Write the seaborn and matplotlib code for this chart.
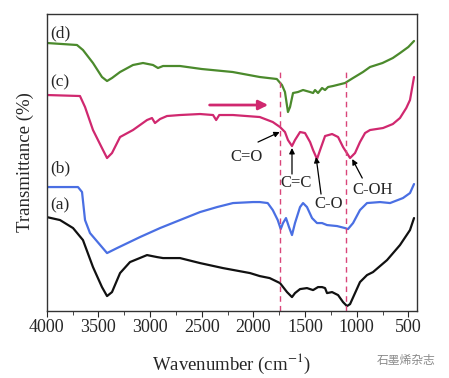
import numpy as np
import pandas as pd
import matplotlib
matplotlib.use("Agg")
import matplotlib.pyplot as plt
import seaborn as sns

# curve (a) black
wn_a = [4000, 3871, 3745, 3649, 3552, 3465, 3416, 3368, 3290, 3194, 3029, 2932, 2874, 2710,
        2516, 2294, 2032, 1938, 1842, 1742, 1674, 1626, 1597, 1548, 1481, 1422, 1374, 1335,
        1306, 1287, 1238, 1180, 1132, 1094, 1064, 1016, 968, 900, 842, 706, 581, 484, 445]
tr_a = [94, 91, 83, 71, 44, 24, 15, 19, 38, 49, 56, 54, 53, 53,
        48, 43, 38, 35, 33, 28, 19, 14, 18, 22, 23, 21, 24, 24,
        23, 18, 19, 16, 9, 5, 7, 18, 29, 36, 39, 51, 66, 81, 93]

# curve (b) blue
wn_b = [4000, 3697, 3658, 3629, 3581, 3416, 3319, 3097, 2903, 2710, 2516, 2351, 2197, 2003,
        1938, 1861, 1812, 1764, 1735, 1713, 1684, 1655, 1626, 1597, 1548, 1519, 1481, 1432,
        1384, 1335, 1287, 1190, 1113, 1084, 1035, 968, 900, 774, 677, 552, 484, 445]
tr_b = [124, 124, 119, 91, 78, 58, 63, 74, 83, 91, 99, 104, 108, 109,
        109, 108, 101, 91, 82, 88, 93, 84, 76, 88, 104, 108, 104, 93,
        88, 88, 86, 85, 83, 82, 88, 101, 108, 109, 108, 113, 118, 127]

# curve (c) magenta
wn_c = [4000, 3678, 3629, 3552, 3465, 3416, 3368, 3290, 3165, 3029, 2981, 2952, 2903, 2836,
        2710, 2516, 2390, 2360, 2330, 2197, 1938, 1812, 1742, 1694, 1665, 1626, 1597, 1548,
        1500, 1451, 1422, 1384, 1354, 1306, 1238, 1180, 1132, 1064, 1016, 968, 919, 871,
        745, 650, 581, 520, 484, 445]
tr_c = [216, 215, 204, 181, 163, 153, 158, 174, 181, 191, 193, 188, 192, 195,
        196, 197, 196, 191, 196, 196, 194, 189, 184, 179, 171, 165, 171, 179,
        178, 169, 161, 152, 161, 175, 177, 174, 164, 153, 158, 169, 178, 181,
        183, 187, 193, 203, 211, 234]

# curve (d) green
wn_d = [4000, 3707, 3649, 3552, 3465, 3416, 3368, 3290, 3165, 3068, 2971, 2923, 2874, 2710,
        2500, 2200, 1938, 1773, 1723, 1694, 1665, 1645, 1616, 1568, 1519, 1451, 1422, 1403,
        1374, 1335, 1306, 1277, 1229, 1113, 1035, 939, 871, 750, 650, 580, 500, 445]
tr_d = [268, 266, 261, 248, 234, 230, 233, 239, 246, 248, 246, 243, 245, 245,
        242, 239, 234, 232, 226, 219, 199, 204, 218, 219, 221, 219, 218, 221,
        218, 223, 221, 224, 225, 228, 233, 239, 244, 248, 253, 258, 264, 270]

curve_labels = ["(a)", "(b)", "(c)", "(d)"]
label_y = [106, 143, 229, 278]
colors = ["#111111", "#4a6fe3", "#d0286f", "#4b8a2c"]
dash_wn = [1742, 1103]

# peak labels: text position, arrow tail, arrow tip
peak_names = ["C=O", "C=C", "C-O", "C-OH"]
peak_text = [(2070, 154), (1590, 128), (1272, 107), (842, 121)]
peak_tail = [(1955, 169), (1626, 137), (1345, 117), (946, 133)]
peak_tip = [(1745, 179), (1626, 163), (1393, 154), (1043, 152)]

sns.set_style("ticks")
plt.rcParams["font.family"] = ["Liberation Serif", "DejaVu Serif"]
plt.rcParams["mathtext.fontset"] = "stix"

fig = plt.figure(figsize=(4.49, 3.78), dpi=100)
ax = fig.add_axes([0.104, 0.177, 0.825, 0.786])

curves = [(wn_a, tr_a), (wn_b, tr_b), (wn_c, tr_c), (wn_d, tr_d)]
for (wn, tr), col in zip(curves, colors):
    df = pd.DataFrame({"wn": wn, "tr": tr})
    sns.lineplot(data=df, x="wn", y="tr", color=col, lw=1.6, ax=ax,
                 estimator=None, sort=False, solid_joinstyle="round")

ax.vlines(dash_wn, 0, 239, colors="#d9457a", linestyles=(0, (4, 3)), lw=1.0)

for lab, y in zip(curve_labels, label_y):
    ax.text(3965, y, lab, fontsize=12.5, ha="left", va="center")

for name, txt, tail, tip in zip(peak_names, peak_text, peak_tail, peak_tip):
    ax.text(txt[0], txt[1], name, fontsize=12, ha="center", va="center")
    ax.annotate("", xy=tip, xytext=tail,
                arrowprops=dict(arrowstyle="-|>", color="black", lw=0.9,
                                mutation_scale=8, shrinkA=0, shrinkB=0))

ax.annotate("", xy=(1830, 206), xytext=(2450, 206),
            arrowprops=dict(arrowstyle="-|>", color="#d0286f", lw=2.0, mutation_scale=14))

ax.set_xlim(4000, 415)
ax.set_ylim(0, 297)
ax.set_xticks([4000, 3500, 3000, 2500, 2000, 1500, 1000, 500])
ax.set_xticks(np.arange(3750, 400, -500), minor=True)
ax.set_yticks([])
ax.tick_params(axis="x", which="major", direction="out", length=4, labelsize=13, pad=2)
ax.tick_params(axis="x", which="minor", direction="out", length=3)
for s in ax.spines.values():
    s.set_visible(True)
    s.set_color("#333333")
    s.set_linewidth(1.0)
ax.set_xlabel("Wavenumber (cm$^{-1}$)", fontsize=13.5, labelpad=11)
ax.set_ylabel("Transmittance (%)", fontsize=13.5, labelpad=9)

fig.text(0.969, 0.045, "石墨烯杂志", fontsize=8.5, color="#8a8a8a", ha="right",
         va="center", family=["Noto Sans CJK SC", "DejaVu Sans"])

fig.savefig("out.png", dpi=100)
